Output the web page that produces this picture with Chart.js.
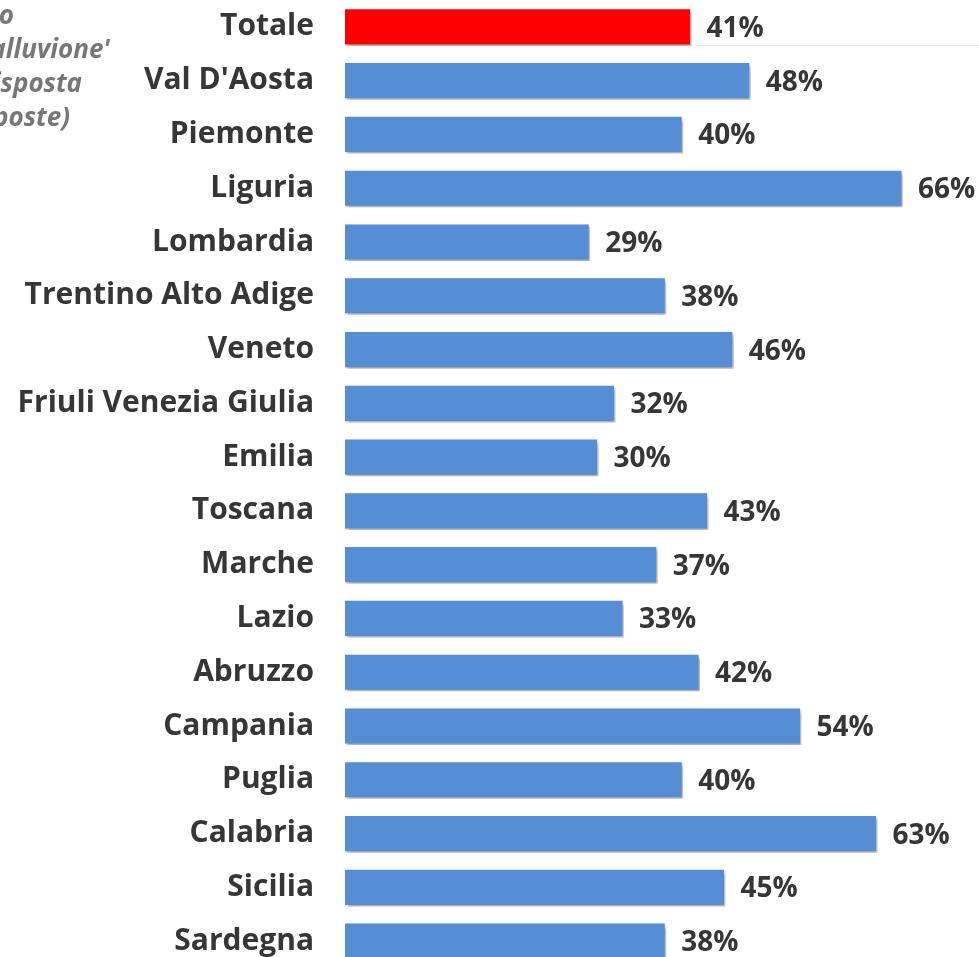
<!DOCTYPE html>
<html>
<head>
<meta charset="utf-8">
<script src="https://cdn.jsdelivr.net/npm/chart.js@4"></script>
<style>
  html, body { margin: 0; padding: 0; background: #fff; overflow: hidden; }
  #wrap { width: 979px; height: 968px; }
</style>
</head>
<body>
<div id="wrap"><canvas id="chart" width="979" height="968"></canvas></div>
<script>
const regions = ['Totale', "Val D'Aosta", 'Piemonte', 'Liguria', 'Lombardia', 'Trentino Alto Adige', 'Veneto',
    'Friuli Venezia Giulia', 'Emilia', 'Toscana', 'Marche', 'Lazio', 'Abruzzo', 'Campania', 'Puglia',
    'Calabria', 'Sicilia', 'Sardegna'];
const values = [41, 48, 40, 66, 29, 38, 46, 32, 30, 43, 37, 33, 42, 54, 40, 63, 45, 38];
const barColors = regions.map(r => r === 'Totale' ? '#ff0000' : '#558ed5');
// cropped side note, only the ends of the lines are visible
const noteLines = ['Rischio', "'alluvione'", '(risposta', 'risposte)'];
const noteRight = [14, 110, 82, 70];

const FONT = '"Open Sans", Lato, sans-serif';

// shadow under the bars
const barShadow = {
    id: 'barShadow',
    beforeDatasetsDraw(chart) {
        const ctx = chart.ctx;
        ctx.save();
        ctx.shadowColor = 'rgba(0,0,0,0.35)';
        ctx.shadowBlur = 4;
        ctx.shadowOffsetX = 2;
        ctx.shadowOffsetY = 3;
    },
    afterDatasetsDraw(chart) {
        chart.ctx.restore();
    }
};

// value labels, the faint dotted line under Totale and the side note
const valueLabels = {
    id: 'valueLabels',
    afterDraw(chart) {
        const ctx = chart.ctx;
        const meta = chart.getDatasetMeta(0);
        ctx.save();
        const first = meta.data[0];
        ctx.strokeStyle = '#d9d9d9';
        ctx.lineWidth = 1;
        ctx.setLineDash([2, 2]);
        ctx.beginPath();
        ctx.moveTo(first.x + 6, first.y + first.height / 2 - 0.5);
        ctx.lineTo(chart.chartArea.right, first.y + first.height / 2 - 0.5);
        ctx.stroke();
        ctx.setLineDash([]);

        ctx.font = 'bold 28px ' + FONT;
        ctx.fillStyle = '#363636';
        ctx.textAlign = 'left';
        ctx.textBaseline = 'middle';
        meta.data.forEach((bar, i) => {
            ctx.fillText(values[i] + '%', bar.x + 15, bar.y + 2);
        });
        ctx.font = 'italic bold 26px ' + FONT;
        ctx.fillStyle = '#777777';
        ctx.textAlign = 'right';
        noteLines.forEach((t, i) => {
            ctx.fillText(t, noteRight[i], 17 + i * 34);
        });
        ctx.restore();
    }
};

new Chart(document.getElementById('chart').getContext('2d'), {
    type: 'bar',
    data: {
        labels: regions,
        datasets: [{
            data: values,
            backgroundColor: barColors,
            borderColor: '#ffffff',
            borderWidth: 1.5,
            barPercentage: 0.71,
            categoryPercentage: 1
        }]
    },
    options: {
        indexAxis: 'y',
        responsive: false,
        animation: false,
        layout: { padding: 0 },
        plugins: {
            legend: { display: false },
            tooltip: { enabled: false }
        },
        scales: {
            x: {
                display: false,
                min: 0,
                max: 75
            },
            y: {
                grid: { display: false, drawTicks: false },
                border: { display: false },
                ticks: {
                    padding: 31,
                    color: '#363636',
                    font: { family: FONT, size: 30, weight: 'bold' }
                },
                afterFit(axis) {
                    axis.width = 345;
                    axis.paddingTop = 0;
                    axis.paddingBottom = 0;
                }
            }
        }
    },
    plugins: [barShadow, valueLabels]
});
</script>
</body>
</html>
